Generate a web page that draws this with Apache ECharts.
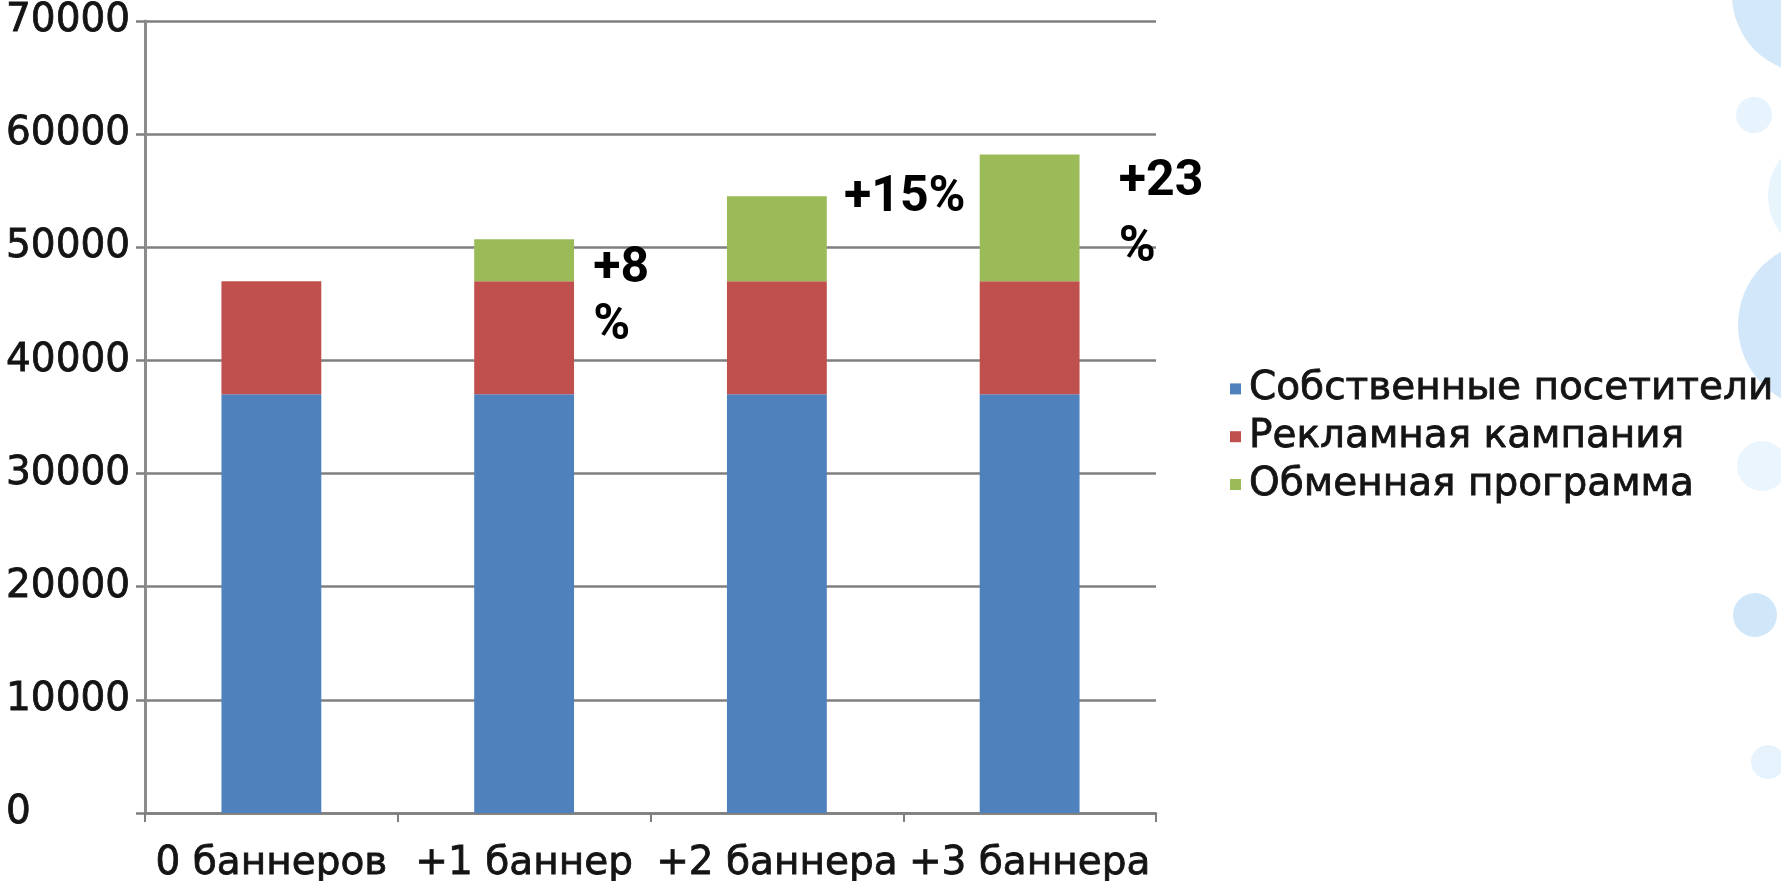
<!DOCTYPE html>
<html>
<head>
<meta charset="utf-8">
<title>Посетители и баннеры</title>
<script src="https://cdn.jsdelivr.net/npm/echarts@6/dist/echarts.min.js"></script>
<style>
  html, body { margin: 0; padding: 0; background: #ffffff; }
  #chart { width: 1781px; height: 881px; }
</style>
</head>
<body>
<div id="chart"></div>
<script>
// Categories and stacked series values
const categories = ['0 баннеров', '+1 баннер', '+2 баннера', '+3 баннера'];
const seriesNames = ['Собственные посетители', 'Рекламная кампания', 'Обменная программа'];
const ownVisitors = [37000, 37000, 37000, 37000];
const adCampaign = [10000, 10000, 10000, 10000];
const exchangeProgram = [0, 3700, 7500, 11200];
const growthLabels = ['', '+8%', '+15%', '+23%'];
const yTicks = { min: 0, max: 70000, interval: 10000 };

const colors = ['#4F81BD', '#C0504D', '#9BBB59'];
const axisGray = '#7f7f7f';
const textColor = '#141414';
const baseFont = 'DejaVu Sans';

// Shared look of the axis and legend text (slightly heavier than regular weight)
const plainText = {
  fontFamily: baseFont,
  fontSize: 39,
  color: textColor,
  textBorderColor: textColor,
  textBorderWidth: 0.8
};

// Placement of growth annotations next to each top segment:
// [dx, dy] from the segment's top-left, wrap width and line spacing
const growthLabelLayout = [
  null,
  { position: [119, 2], width: 60, lineHeight: 57 },
  { position: [117, -30], width: 150, lineHeight: 64 },
  { position: [139, -5], width: 92, lineHeight: 66 }
];

const chart = echarts.init(document.getElementById('chart'), null, { renderer: 'canvas' });

const exchangeData = exchangeProgram.map((v, i) => {
  const layout = growthLabelLayout[i];
  if (!layout) return { value: v, label: { show: false } };
  return {
    value: v,
    label: {
      show: true,
      position: layout.position,
      width: layout.width,
      lineHeight: layout.lineHeight,
      overflow: 'break',
      align: 'left',
      verticalAlign: 'top'
    }
  };
});

// Soft decorative bubbles along the right edge
const bubbles = [
  { cx: 1810, cy: -5, r: 78, fill: '#d3e9fa' },
  { cx: 1754, cy: 115, r: 18, fill: '#e8f4fd' },
  { cx: 1830, cy: 196, r: 62, fill: '#e9f5fd' },
  { cx: 1822, cy: 325, r: 84, fill: '#d2e8fa' },
  { cx: 1762, cy: 466, r: 25, fill: '#eaf5fd' },
  { cx: 1755, cy: 615, r: 22, fill: '#d0e7fa' },
  { cx: 1768, cy: 762, r: 17, fill: '#e6f3fd' }
];

const option = {
  backgroundColor: '#ffffff',
  animation: false,
  color: colors,
  textStyle: { fontFamily: baseFont },
  graphic: bubbles.map(b => ({
    type: 'circle',
    z: -10,
    silent: true,
    shape: { cx: b.cx, cy: b.cy, r: b.r },
    style: { fill: b.fill }
  })),
  grid: { left: 145, right: 625, top: 21, bottom: 68, containLabel: false, outerBoundsMode: 'none' },
  legend: {
    orient: 'vertical',
    left: 1225,
    top: 364,
    icon: 'rect',
    itemWidth: 11,
    itemHeight: 11,
    itemGap: 8,
    selectedMode: false,
    data: seriesNames,
    textStyle: Object.assign({}, plainText, { lineHeight: 39, padding: [0, 0, 0, 3] })
  },
  xAxis: {
    type: 'category',
    data: categories,
    boundaryGap: true,
    axisLine: { show: true, lineStyle: { color: axisGray, width: 2.5 } },
    axisTick: { show: true, length: 9, alignWithLabel: false, lineStyle: { color: axisGray, width: 2 } },
    axisLabel: Object.assign({}, plainText, { margin: 31, interval: 0 }),
    splitLine: { show: false }
  },
  yAxis: {
    type: 'value',
    min: yTicks.min,
    max: yTicks.max,
    interval: yTicks.interval,
    axisLine: { show: true, lineStyle: { color: '#8c8c8c', width: 3 } },
    axisTick: { show: true, length: 9, lineStyle: { color: axisGray, width: 2.5 } },
    axisLabel: Object.assign({}, plainText, {
      margin: 139,
      align: 'left',
      formatter: v => String(v)
    }),
    splitLine: { show: true, lineStyle: { color: axisGray, width: 2.5 } }
  },
  series: [
    {
      name: seriesNames[0],
      type: 'bar',
      stack: 'total',
      barWidth: '39.5%',
      data: ownVisitors,
      itemStyle: { color: colors[0] }
    },
    {
      name: seriesNames[1],
      type: 'bar',
      stack: 'total',
      data: adCampaign,
      itemStyle: { color: colors[1] }
    },
    {
      name: seriesNames[2],
      type: 'bar',
      stack: 'total',
      data: exchangeData,
      itemStyle: { color: colors[2] },
      label: {
        show: true,
        formatter: p => growthLabels[p.dataIndex],
        fontFamily: 'Roboto',
        fontWeight: 'bold',
        fontSize: 50,
        lineHeight: 64,
        color: '#000000'
      }
    }
  ]
};

chart.setOption(option);
</script>
</body>
</html>
